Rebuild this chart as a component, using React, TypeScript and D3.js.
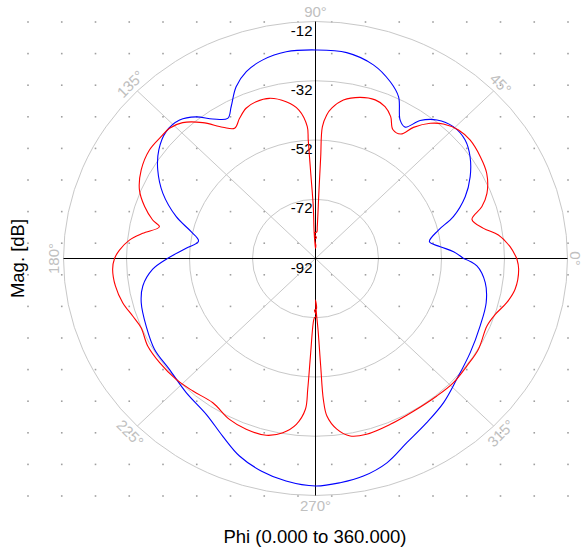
import React from 'react';
import * as d3 from 'd3';

const W = 584;
const H = 551;
const CX = 315.5;
const CY = 258.5;
const RX = 252;
const RY = 237;

const magTicks = [-12, -32, -52, -72, -92];
const angleTicks = [0, 45, 90, 135, 180, 225, 270, 315];

// Blue trace: phi (deg) and magnitude (dB)
const bluePhi = [
  0, 3.0, 5.75, 8.9, 13.8, 17.9, 23.7, 29.3, 35.0, 40.1, 45.5, 50.5, 54.5, 57.3, 60.1, 64.2,
  68.3, 74.3, 81.9, 90, 97.6, 104.0, 109.2, 113.5, 117.6, 120.5, 124.7, 128.4, 132.7, 137.9,
  143.6, 149.2, 155.6, 162.3, 167.1, 171.0, 175.2, 180, 184.0, 189.6, 195.1, 203.0, 211.0,
  218.9, 227.8, 236.6, 243.8, 250.1, 256.6, 262.9, 270, 275.9, 281.7, 288.2, 295.0, 302.5,
  309.9, 317.7, 327.1, 336.5, 344.6, 351.4, 357.2, 360,
];
const blueMag = [
  -45.0, -48.1, -52.2, -55.4, -51.8, -46.0, -40.1, -35.7, -32.1, -29.9, -29.6, -31.4, -34.8,
  -39.3, -38.1, -31.4, -27.8, -24.1, -21.8, -21.6, -21.6, -22.9, -25.2, -28.8, -34.2, -37.1,
  -34.7, -31.0, -28.4, -28.1, -30.2, -33.7, -38.8, -45.6, -51.5, -54.4, -50.8, -45.0, -40.2,
  -36.4, -34.7, -33.6, -32.4, -32.4, -30.9, -29.0, -25.2, -21.1, -18.2, -16.3, -15.2, -15.9,
  -17.0, -19.4, -23.4, -26.3, -28.6, -31.4, -33.5, -35.0, -35.8, -37.5, -40.7, -45.0,
];

// Red trace: phi (deg) and magnitude (dB); the nulls near 90 and 270 deg are noisy
const redPhi = [
  0, 3.7, 7.8, 10.8, 14.9, 18.3, 22.0, 27.9, 33.3, 39.2, 43.7, 48.2, 51.4, 54.9, 57.2, 60.6,
  63.5, 66.7, 70.5, 75.4, 80.6, 84.2, 85.8, 87.2, 87.25, 87.25, 87.0,
  87.3, 92.7, 87.6, 92.4, 88.5, 90, 91.5, 92.8, 92.3,
  93.0, 93.3, 93.35, 96.0, 100.0, 105.1, 109.6, 113.5, 117.0, 120.3, 123.6, 128.0, 132.6,
  136.5, 140.0, 145.2, 151.6, 157.5, 162.1, 165.9, 167.8, 171.2, 174.0, 177.4, 180, 183.2,
  188.3, 193.7, 198.5, 202.9, 209.0, 215.4, 222.7, 229.0, 236.2, 243.3, 249.1, 255.3, 260.0,
  263.8, 266.4, 266.8, 267.2, 268.1,
  269.0, 271.0, 269.0, 271.0, 270, 270.9,
  271.9, 272.6, 273.0, 273.9, 276.7,
  280.4, 285.3, 293.0, 301.1, 309.7, 316.3, 322.9, 329.4, 337.3, 341.7, 346.2, 350.7, 356.8,
  360,
];
const redMag = [
  -28.1, -30.1, -33.4, -37.7, -40.6, -36.4, -33.3, -30.5, -29.4, -28.7, -29.2, -31.1, -33.6,
  -37.9, -42.0, -42.0, -38.5, -36.2, -35.2, -35.8, -37.8, -41.0, -43.4, -47.5, -57.6, -68.9,
  -81.3,
  -83.0, -83.5, -85.0, -85.5, -87.5, -88.5, -87.5, -83.0, -74.5,
  -63.2, -51.9, -47.4, -41.6, -38.3, -36.0, -35.8, -36.7,
  -38.9, -41.1, -38.8, -33.8, -29.7, -28.1, -28.0, -27.8, -29.1, -31.5, -35.0, -38.7, -41.3,
  -36.5, -32.6, -29.7, -28.2, -27.5, -27.8, -29.0, -30.8, -31.9, -31.1, -31.3, -31.8, -32.7,
  -33.4, -31.2, -30.3, -30.3, -32.3, -35.7, -41.0, -47.8, -59.0, -70.3,
  -72.0, -72.5, -74.5, -75.0, -78.0, -73.5,
  -68.1, -55.7, -44.4, -38.7, -34.0, -31.1, -30.5, -31.2, -31.8, -31.7, -31.4, -31.8, -31.9,
  -33.0, -31.9, -29.5, -27.8, -27.4, -28.1,
];

const FONT = "Arial, 'Liberation Sans', sans-serif";

export default function App() {
  const r = d3.scaleLinear().domain([-92, -12]).range([0, 1]);
  const rad = (deg: number) => (deg * Math.PI) / 180;
  const px = (phi: number, mag: number) => CX + r(mag) * RX * Math.cos(rad(phi));
  const py = (phi: number, mag: number) => CY - r(mag) * RY * Math.sin(rad(phi));

  const line = d3
    .line<[number, number]>()
    .x((d) => px(d[0], d[1]))
    .y((d) => py(d[0], d[1]))
    .curve(d3.curveCatmullRom.alpha(0.5));

  const blue = bluePhi.map((p, i) => [p, blueMag[i]] as [number, number]);
  const red = redPhi.map((p, i) => [p, redMag[i]] as [number, number]);

  const dotX = d3.range(17).map((k) => 28 + k * 33.75);
  const dotY = d3.range(16).map((k) => 22 + k * 31.6);

  return (
    <svg
      width={W}
      height={H}
      style={{ position: 'absolute', left: 0, top: 0, background: '#fff' }}
      fontFamily={FONT}
    >
      <rect x={0} y={0} width={W} height={H} fill="#fff" />
      {/* background dot grid */}
      <g fill="#a0a0a0">
        {dotX.map((x) =>
          dotY.map((y) => <rect key={`${x}-${y}`} x={x - 0.8} y={y - 0.8} width={1.6} height={1.6} />)
        )}
      </g>
      {/* magnitude rings */}
      <g fill="none" stroke="#c8c8c8" strokeWidth={1}>
        {magTicks
          .filter((v) => r(v) > 0)
          .map((v) => (
            <ellipse key={v} cx={CX} cy={CY} rx={r(v) * RX} ry={r(v) * RY} />
          ))}
      </g>
      {/* diagonal spokes */}
      <g stroke="#c8c8c8" strokeWidth={1}>
        {[45, 135, 225, 315].map((a) => (
          <line key={a} x1={CX} y1={CY} x2={px(a, -12)} y2={py(a, -12)} />
        ))}
      </g>
      {/* main axes */}
      <g stroke="#000" strokeWidth={1}>
        <line x1={CX - RX} y1={CY} x2={CX + RX} y2={CY} />
        <line x1={CX} y1={CY - RY} x2={CX} y2={CY + RY} />
      </g>
      {/* ring labels */}
      <g fontSize={15} fill="#000" textAnchor="end">
        {magTicks.map((v) => (
          <text key={v} x={CX - 3} y={CY - r(v) * RY + 14}>
            {v}
          </text>
        ))}
      </g>
      {/* angle labels */}
      <g fontSize={15} fill="#c0c0c0" textAnchor="middle">
        {angleTicks.map((a) => {
          const off = a === 0 ? 7.5 : 10;
          const x = CX + (RX + off) * Math.cos(rad(a));
          const y = CY - (RY + off) * Math.sin(rad(a));
          let rot = 90 - a;
          if (rot < -90) rot += 180;
          return (
            <text
              key={a}
              x={x}
              y={y}
              dominantBaseline="central"
              transform={`rotate(${rot},${x},${y})`}
            >
              {`${a}°`}
            </text>
          );
        })}
      </g>
      {/* traces */}
      <path d={line(blue) || ''} fill="none" stroke="#0000ff" strokeWidth={1.1} />
      <path d={line(red) || ''} fill="none" stroke="#ff0000" strokeWidth={1.1} />
      {/* axis titles */}
      <text
        x={24}
        y={CY}
        fontSize={18.5}
        textAnchor="middle"
        transform={`rotate(-90,24,${CY})`}
        fill="#000"
      >
        Mag. [dB]
      </text>
      <text x={315} y={543} fontSize={18.5} textAnchor="middle" fill="#000">
        Phi (0.000 to 360.000)
      </text>
    </svg>
  );
}
